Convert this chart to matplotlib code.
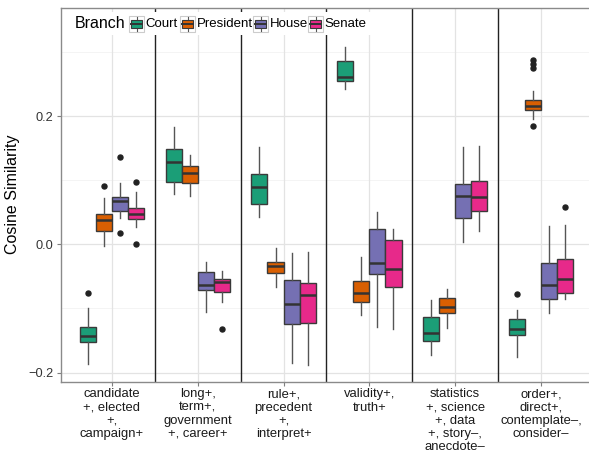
import matplotlib
matplotlib.use("Agg")
import matplotlib.pyplot as plt
from matplotlib.patches import Rectangle
from matplotlib.lines import Line2D

plt.rcParams['font.family'] = ['Liberation Sans', 'DejaVu Sans']

categories = [
    "candidate\n+, elected\n+,\ncampaign+",
    "long+,\nterm+,\ngovernment\n+, career+",
    "rule+,\nprecedent\n+,\ninterpret+",
    "validity+,\ntruth+",
    "statistics\n+, science\n+, data\n+, story\u2013,\nanecdote\u2013",
    "order+,\ndirect+,\ncontemplate\u2013,\nconsider\u2013",
]
branches = ["Court", "President", "House", "Senate"]
colors = ["#1B9E77", "#D95F02", "#7570B3", "#E7298A"]

court_whislo = [-0.186, 0.0785, 0.043, 0.2418, -0.1722, -0.1753]
court_q1 = [-0.152, 0.0967, 0.0629, 0.2543, -0.1513, -0.142]
court_med = [-0.143, 0.129, 0.0899, 0.2615, -0.1379, -0.1326]
court_q3 = [-0.1285, 0.148, 0.1097, 0.2855, -0.1139, -0.117]
court_whishi = [-0.0998, 0.1825, 0.152, 0.307, -0.0869, -0.1025]
court_fliers = [[-0.0755], [], [], [], [], [-0.0775]]

president_whislo = [-0.0027, 0.0753, -0.067, -0.1108, -0.1306, 0.195]
president_q1 = [0.0203, 0.095, -0.0452, -0.0895, -0.1076, 0.2095]
president_med = [0.0379, 0.1117, -0.0339, -0.0755, -0.0983, 0.2153]
president_q3 = [0.0473, 0.1217, -0.0271, -0.0577, -0.0833, 0.2246]
president_whishi = [0.0717, 0.1388, -0.0062, -0.0193, -0.0702, 0.2396]
president_fliers = [[0.091], [], [], [], [], [0.2875, 0.2808, 0.2746, 0.1846]]

house_whislo = [0.0405, -0.106, -0.1857, -0.1295, 0.0041, -0.1076]
house_q1 = [0.0525, -0.0708, -0.1248, -0.0468, 0.041, -0.0858]
house_med = [0.067, -0.064, -0.0936, -0.0287, 0.0758, -0.0635]
house_q3 = [0.0738, -0.0437, -0.0562, 0.0239, 0.0945, -0.0296]
house_whishi = [0.095, -0.0271, -0.014, 0.0499, 0.1513, 0.029]
house_fliers = [[0.1367, 0.0176], [], [], [], [], []]

senate_whislo = [0.0275, -0.0905, -0.188, -0.1317, 0.0212, -0.0849]
senate_q1 = [0.0395, -0.0749, -0.1233, -0.0661, 0.052, -0.0755]
senate_med = [0.0478, -0.0593, -0.079, -0.038, 0.0738, -0.0546]
senate_q3 = [0.0566, -0.054, -0.0608, 0.0062, 0.0983, -0.0225]
senate_whishi = [0.082, -0.0412, -0.0125, 0.0239, 0.1529, 0.0301]
senate_fliers = [[0.0977, 0.001], [-0.1317], [], [], [], [0.0577]]

series = [
    (court_whislo, court_q1, court_med, court_q3, court_whishi, court_fliers),
    (president_whislo, president_q1, president_med, president_q3, president_whishi, president_fliers),
    (house_whislo, house_q1, house_med, house_q3, house_whishi, house_fliers),
    (senate_whislo, senate_q1, senate_med, senate_q3, senate_whishi, senate_fliers),
]

W, H = 589, 454
fig = plt.figure(figsize=(W / 100, H / 100), dpi=100)
left_px, top_px, bot_px = 60.5, 8, 381.5
ax = fig.add_axes([left_px / W, 1 - bot_px / H, (W - left_px) / W, (bot_px - top_px) / H])

ax.set_xlim(0.4, 6.56)
ax.set_ylim(-0.214, 0.3686)

# grid
for y in [-0.1, 0.1, 0.3]:
    ax.axhline(y, color="#f2f2f2", lw=0.6, zorder=0)
for y in [-0.2, 0.0, 0.2]:
    ax.axhline(y, color="#e3e3e3", lw=0.9, zorder=0)
for x in range(1, 7):
    ax.axvline(x, color="#e3e3e3", lw=0.9, zorder=0)
for x in [1.5, 2.5, 3.5, 4.5, 5.5]:
    ax.axvline(x, color="#222222", lw=1.0, zorder=1)

bw = 0.75 / 4
for j, (wl, q1, md, q3, wh, fl) in enumerate(series):
    stats = []
    pos = []
    for i in range(len(categories)):
        stats.append(dict(whislo=wl[i], q1=q1[i], med=md[i], q3=q3[i], whishi=wh[i], fliers=fl[i]))
        pos.append(i + 1 + (j - 1.5) * bw)
    ax.bxp(stats, positions=pos, widths=bw, patch_artist=True, showcaps=False,
           boxprops=dict(facecolor=colors[j], edgecolor="#3a3a3a", linewidth=1.0),
           whiskerprops=dict(color="#555555", linewidth=1.0),
           medianprops=dict(color="#333333", linewidth=1.8),
           flierprops=dict(marker="o", markersize=3.6, markerfacecolor="#222222",
                           markeredgecolor="#222222"),
           manage_ticks=False, zorder=2)

ax.set_xticks(range(1, 7))
ax.set_xticklabels(categories, fontsize=9.4, linespacing=1.13, color="#1a1a1a")
ax.set_yticks([-0.2, 0.0, 0.2])
ax.set_yticklabels(["\u22120.2", "0.0", "0.2"], fontsize=9.2, color="#333333")
ax.tick_params(axis="both", length=3, color="#7f7f7f", width=0.8, pad=2)
ax.set_ylabel("Cosine Similarity", fontsize=11.5, labelpad=6)

for s in ["left", "top", "bottom"]:
    ax.spines[s].set_color("#8a8a8a")
    ax.spines[s].set_linewidth(1.0)
ax.spines["right"].set_visible(False)

# legend (manual, ggplot-like horizontal)
def fx(px):
    return px / W

def fy(py):
    return 1 - py / H

fig.patches.append(Rectangle((fx(66), fy(35)), fx(372) - fx(66), fy(12) - fy(35),
                             transform=fig.transFigure, facecolor="white", edgecolor="none", zorder=5))
fig.text(fx(75), fy(24), "Branch", fontsize=11.5, va="center", ha="left", zorder=6)
key_x = [129, 180, 253, 308]
for kx, name, col in zip(key_x, branches, colors):
    fig.patches.append(Rectangle((fx(kx), fy(31.5)), fx(15) - fx(0), fy(16.5) - fy(31.5),
                                 transform=fig.transFigure, facecolor="white",
                                 edgecolor="#cccccc", lw=0.8, zorder=6))
    cx = kx + 7.5
    fig.lines.append(Line2D([fx(cx), fx(cx)], [fy(17), fy(31)], transform=fig.transFigure,
                            color="#555555", lw=0.8, zorder=7))
    fig.patches.append(Rectangle((fx(kx + 2), fy(28)), fx(11) - fx(0), fy(20) - fy(28),
                                 transform=fig.transFigure, facecolor=col,
                                 edgecolor="#3a3a3a", lw=0.8, zorder=8))
    fig.lines.append(Line2D([fx(kx + 2), fx(kx + 13)], [fy(24), fy(24)], transform=fig.transFigure,
                            color="#333333", lw=1.4, zorder=9))
    fig.text(fx(kx + 16.5), fy(24), name, fontsize=9.5, va="center", ha="left", zorder=9)

fig.savefig("out.png", dpi=100)
